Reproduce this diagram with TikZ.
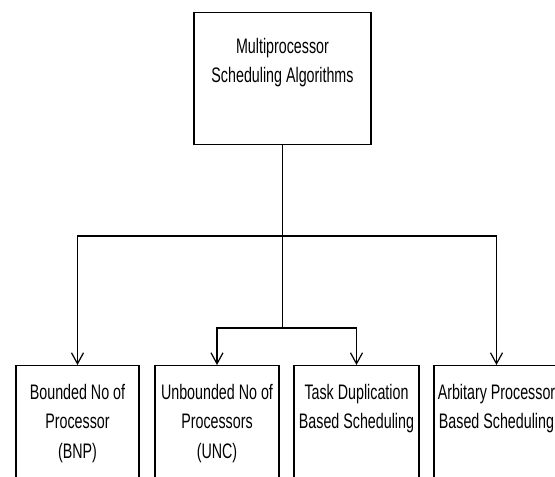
\documentclass[tikz,border=0pt]{standalone}
\usepackage{fontspec}
\usepackage{tikz}
\usetikzlibrary{positioning, arrows.meta}
\newfontfamily\narrowsf{Liberation Sans}[FakeStretch=0.68]

\begin{document}
\begin{tikzpicture}[x=1pt, y=1pt,
    box/.style={draw, line width=1.3pt, minimum width=124pt, minimum height=140pt, anchor=north},
    lbl/.style={inner sep=0pt, align=center, anchor=north, font=\narrowsf\fontsize{21}{29.5}\selectfont},
    arr/.style={-{Straight Barb[length=11pt, width=12pt]}, line width=1.2pt}]
    \clip (0,0) rectangle (555,-477);
    % Nodes
    \node[box, minimum width=177pt, minimum height=132pt] (msa) at (282.5,-12) {};
    \node[lbl, below=26pt of msa.north] (msa-txt) {Multiprocessor\\Scheduling Algorithms};

    \node[box, minimum width=123pt] (bnp) at (77.5,-365) {};
    \node[box] (unc) at (217,-365) {};
    \node[box, minimum width=125pt] (tdb) at (356.5,-365) {};
    \node[box, minimum width=125pt] (apb) at (496.5,-365) {};

    \node[lbl, below=19pt of bnp.north] (bnp-txt) {Bounded No of\\Processor\\(BNP)};
    \node[lbl, below=19pt of unc.north] (unc-txt) {Unbounded No of\\Processors\\(UNC)};
    \node[lbl, below=19pt of tdb.north] (tdb-txt) {Task Duplication\\Based Scheduling};
    \node[lbl, below=19pt of apb.north] (apb-txt) {Arbitary Processor\\Based Scheduling};

    \coordinate (split) at (282.5,-236);
    \coordinate (subsplit) at (282.5,-328);

    % Arrows
    \draw[line width=1.2pt] (msa.south) -- (subsplit);
    \draw[arr] (split) -| (bnp.north);
    \draw[arr] (split) -| (apb.north);
    \draw[arr] (subsplit) -| (unc.north);
    \draw[arr] (subsplit) -| (tdb.north);
\end{tikzpicture}
\end{document}
